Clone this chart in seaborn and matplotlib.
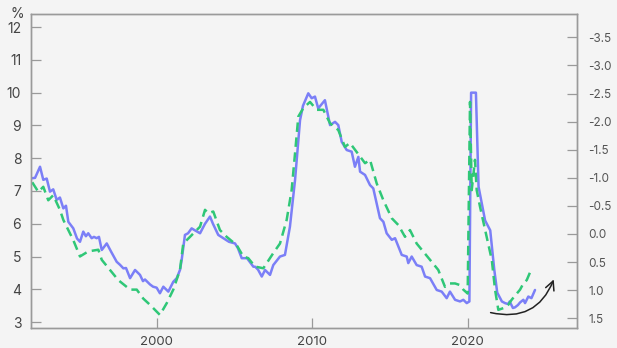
import matplotlib
matplotlib.use("Agg")
import matplotlib.pyplot as plt
import seaborn as sns
import pandas as pd

# Unemployment rate (left axis, %)
blue_year = [1992.0, 1992.18, 1992.5, 1992.71, 1992.93, 1993.14, 1993.35, 1993.57, 1993.78, 1994.0,
             1994.17, 1994.32, 1994.64, 1994.88, 1995.07, 1995.28, 1995.45, 1995.6, 1995.82, 1995.97,
             1996.14, 1996.29, 1996.47, 1996.79, 1997.07, 1997.43, 1997.64, 1997.86, 1998.03, 1998.29,
             1998.61, 1998.93, 1999.12, 1999.25, 1999.57, 1999.77, 2000.0, 2000.21, 2000.43, 2000.75,
             2001.07, 2001.29, 2001.5, 2001.61, 2001.82, 2002.02, 2002.25, 2002.46, 2002.79, 2003.11,
             2003.43, 2003.62, 2003.96, 2004.29, 2004.65, 2005.04, 2005.23, 2005.47, 2005.81, 2006.22,
             2006.33, 2006.52, 2006.76, 2006.97, 2007.29, 2007.5, 2007.93, 2008.25, 2008.57, 2008.9,
             2009.22, 2009.41, 2009.75, 2009.97, 2010.18, 2010.39, 2010.82, 2011.15, 2011.47, 2011.68,
             2011.9, 2012.22, 2012.54, 2012.75, 2012.97, 2013.08, 2013.4, 2013.72, 2013.93, 2014.15,
             2014.36, 2014.58, 2014.79, 2015.12, 2015.33, 2015.76, 2016.08, 2016.18, 2016.4, 2016.72,
             2017.04, 2017.26, 2017.58, 2018.01, 2018.33, 2018.65, 2018.86, 2019.19, 2019.51, 2019.72,
             2019.94, 2020.11, 2020.22, 2020.53, 2020.7, 2021.12, 2021.45, 2021.71, 2021.9, 2022.2,
             2022.4, 2022.6, 2022.7, 2022.91, 2023.04, 2023.23, 2023.37, 2023.58, 2023.69, 2023.9,
             2024.1, 2024.33]
blue_val = [7.39, 7.4, 7.74, 7.34, 7.38, 6.98, 7.05, 6.73, 6.8, 6.47,
            6.55, 6.06, 5.86, 5.55, 5.45, 5.76, 5.62, 5.71, 5.56, 5.6,
            5.56, 5.6, 5.2, 5.4, 5.15, 4.84, 4.75, 4.64, 4.65, 4.34,
            4.59, 4.44, 4.25, 4.3, 4.15, 4.08, 4.05, 3.88, 4.08, 3.93,
            4.23, 4.34, 4.59, 4.9, 5.66, 5.71, 5.86, 5.8, 5.71, 6.0,
            6.22, 6.0, 5.66, 5.56, 5.45, 5.4, 5.25, 4.95, 4.95, 4.69,
            4.69, 4.6, 4.39, 4.59, 4.44, 4.74, 5.0, 5.05, 5.91, 7.34,
            9.16, 9.6, 9.98, 9.83, 9.88, 9.52, 9.77, 9.01, 9.11, 9.01,
            8.5, 8.25, 8.2, 7.74, 8.04, 7.59, 7.49, 7.18, 7.08, 6.62,
            6.17, 6.06, 5.71, 5.51, 5.56, 5.05, 5.0, 4.8, 5.0, 4.74,
            4.69, 4.39, 4.34, 3.98, 3.93, 3.73, 3.93, 3.68, 3.63, 3.68,
            3.58, 3.63, 10.0, 10.0, 7.13, 6.1, 5.8, 4.6, 3.9, 3.63,
            3.58, 3.55, 3.63, 3.43, 3.45, 3.52, 3.6, 3.68, 3.58, 3.78,
            3.73, 3.98]

# Indicator (right axis, inverted)
green_year = [1992.0, 1992.39, 1992.71, 1993.03, 1993.35, 1993.78, 1994.0, 1994.64, 1995.07, 1995.6,
              1996.25, 1996.47, 1997.0, 1997.53, 1998.29, 1998.72, 1999.14, 1999.57, 2000.21, 2000.65,
              2001.07, 2001.5, 2001.71, 2002.04, 2002.36, 2002.79, 2003.11, 2003.32, 2003.64, 2004.07,
              2004.5, 2005.15, 2005.57, 2005.89, 2006.33, 2006.86, 2007.5, 2007.93, 2008.36, 2008.68,
              2008.9, 2009.11, 2009.43, 2009.86, 2010.29, 2010.72, 2011.15, 2011.68, 2012.11, 2012.43,
              2012.86, 2013.4, 2013.72, 2014.15, 2014.58, 2015.12, 2015.54, 2015.97, 2016.29, 2016.72,
              2017.58, 2018.11, 2018.54, 2018.86, 2019.19, 2019.51, 2019.72, 2020.0, 2020.15, 2020.26,
              2020.47, 2020.58, 2020.79, 2021.22, 2021.55, 2021.76, 2021.97, 2022.29, 2022.61, 2022.83,
              2023.16, 2023.37, 2023.58, 2023.8, 2024.12]
green_val = [-0.92, -0.75, -0.84, -0.60, -0.69, -0.43, -0.25, 0.11, 0.40, 0.31,
             0.28, 0.46, 0.64, 0.82, 0.99, 0.99, 1.15, 1.26, 1.44, 1.23,
             0.99, 0.64, 0.17, 0.08, -0.01, -0.13, -0.43, -0.37, -0.40, -0.07,
             0.05, 0.20, 0.40, 0.43, 0.58, 0.61, 0.34, 0.17, -0.25, -0.78,
             -1.44, -2.09, -2.24, -2.35, -2.21, -2.21, -1.97, -1.85, -1.55, -1.62,
             -1.46, -1.26, -1.32, -0.90, -0.60, -0.28, -0.16, 0.05, -0.07, 0.17,
             0.46, 0.64, 0.94, 0.88, 0.88, 0.91, 0.99, 1.06, -2.35, -0.78,
             -1.32, -0.78, -0.49, 0.05, 0.46, 0.99, 1.35, 1.32, 1.26, 1.17,
             1.06, 0.99, 0.88, 0.82, 0.61]

left_ticks = [3, 4, 5, 6, 7, 8, 9, 10, 11, 12]
right_ticks = [-3.5, -3.0, -2.5, -2.0, -1.5, -1.0, -0.5, 0.0, 0.5, 1.0, 1.5]
x_ticks = [2000, 2010, 2020]

bg = "#f4f4f4"
sns.set_theme(style="white", rc={"axes.facecolor": bg, "figure.facecolor": bg})
plt.rcParams["font.family"] = ["Inter", "DejaVu Sans"]

fig = plt.figure(figsize=(6.17, 3.48), dpi=100)
ax = fig.add_axes([31/617, 1-328/348, (577-31)/617, (328-14)/348])
ax2 = ax.twinx()

df_b = pd.DataFrame({"year": blue_year, "val": blue_val})
df_g = pd.DataFrame({"year": green_year, "val": green_val})

sns.lineplot(data=df_b, x="year", y="val", ax=ax, color="#7b7ff7", linewidth=1.8, zorder=3)
sns.lineplot(data=df_g, x="year", y="val", ax=ax2, color="#2fc777", linewidth=1.8,
             dashes=False, linestyle=(0, (3.8, 2.2)), zorder=2)

ax.set_xlim(1991.92, 2027.03)
ax.set_ylim(2.82, 12.4)
ax2.set_ylim(1.673, -3.915)

ax.set_xticks(x_ticks)
ax.set_xticklabels([str(t) for t in x_ticks])
ax.set_yticks(left_ticks)
ax.set_yticklabels([str(t) for t in left_ticks])
ax2.set_yticks(right_ticks)
ax2.set_yticklabels([f"{t:.1f}" for t in right_ticks])

for a in (ax, ax2):
    a.set_xlabel("")
    a.set_ylabel("")
    for s in a.spines.values():
        s.set_color("#9a9a9a")
        s.set_linewidth(1.0)
        s.set_visible(True)

ax.tick_params(axis="y", direction="in", length=7.5, width=0.9, color="#9a9a9a",
               labelsize=10, labelcolor="#444444", pad=7, left=True)
ax.tick_params(axis="x", direction="in", length=7.5, width=0.9, color="#9a9a9a",
               labelsize=9.5, labelcolor="#444444", pad=6, bottom=True)
ax2.tick_params(axis="y", direction="in", length=7.5, width=0.9, color="#9a9a9a",
                labelsize=8.5, labelcolor="#555555", pad=8, right=True)

ax.text(-0.025, 1.0, "%", transform=ax.transAxes, ha="center", va="center",
        fontsize=10, color="#444444")

ax.annotate("", xy=(2025.6, 4.38), xytext=(2021.3, 3.31),
            arrowprops=dict(arrowstyle="->", color="#222222", lw=1.1,
                            connectionstyle="arc3,rad=0.45", mutation_scale=16))

fig.savefig("out.png", dpi=100, facecolor=bg)
